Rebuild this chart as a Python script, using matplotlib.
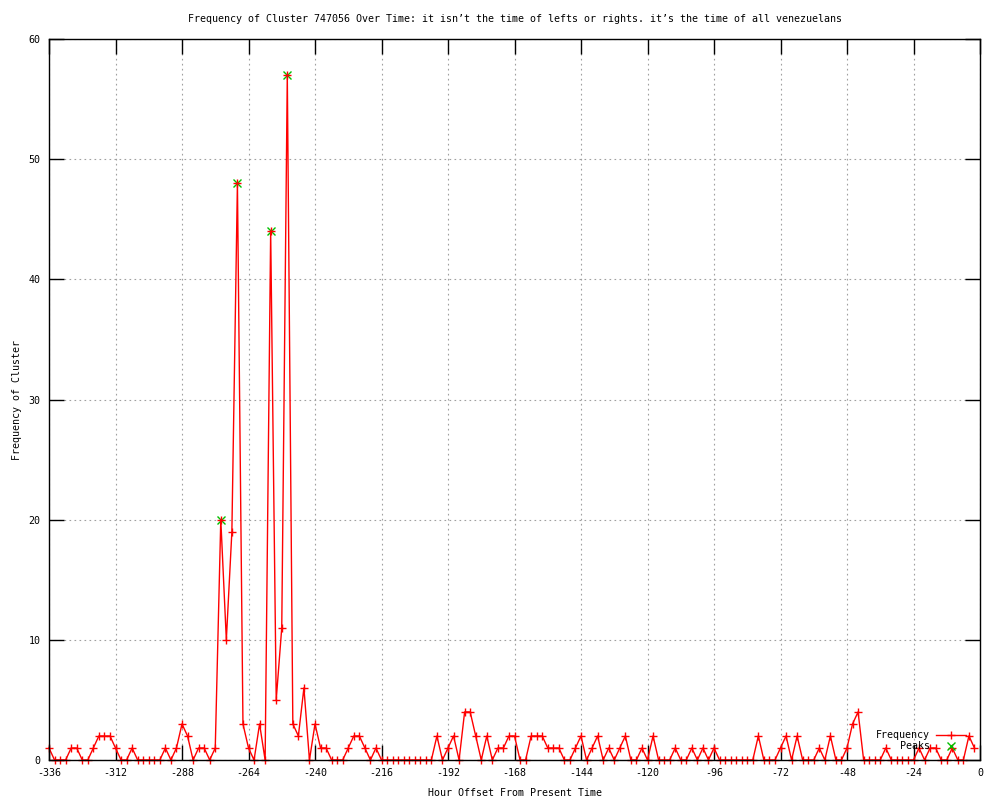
import matplotlib
matplotlib.use("Agg")
import matplotlib.pyplot as plt

plt.rcParams["axes.unicode_minus"] = False

# hours before present, one sample every 2 hours
hours = list(range(-336, 0, 2))
counts = [
    1, 0, 0, 0, 1, 1, 0, 0, 1, 2, 2, 2, 1, 0, 0, 1,      # -336 .. -306
    0, 0, 0, 0, 0, 1, 0, 1, 3, 2, 0, 1, 1, 0, 1,         # -304 .. -276
    20, 10, 19, 48, 3, 1, 0, 3, 0, 44, 5, 11, 57, 3, 2, 6,  # -274 .. -244
    0, 3, 1, 1, 0, 0, 0, 1, 2, 2, 1, 0, 1, 0,            # -242 .. -216
    0, 0, 0, 0, 0, 0, 0, 0, 0, 2, 0, 1, 2, 0, 4, 4,      # -214 .. -184
    2, 0, 2, 0, 1, 1, 2, 2, 0, 0, 2, 2, 2, 1, 1, 1,      # -182 .. -152
    0, 0, 1, 2, 0, 1, 2, 0, 1, 0, 1, 2, 0, 0, 1, 0,      # -150 .. -120
    2, 0, 0, 0, 1, 0, 0, 1, 0, 1, 0, 1, 0, 0, 0, 0,      # -118 .. -88
    0, 0, 0, 2, 0, 0, 0, 1, 2, 0, 2, 0, 0, 0, 1, 0,      # -86 .. -56
    2, 0, 0, 1, 3, 4, 0, 0, 0, 0, 1, 0, 0, 0, 0, 0,      # -54 .. -24
    1, 0, 1, 1, 0, 0, 1, 0, 0, 2, 1,                     # -22 .. -2
]
peak_hours = [-274, -268, -256, -250]
peak_counts = [20, 48, 44, 57]

title = ("Frequency of Cluster 747056 Over Time: it isn\u2019t the time of lefts "
         "or rights. it\u2019s the time of all venezuelans")

font = ["DejaVu Sans Mono"]
fs = 7.2

fig = plt.figure(figsize=(10, 8), dpi=100)
ax = fig.add_axes([0.049, 0.05, 0.931, 0.90125])

ax.plot(peak_hours, peak_counts, linestyle="none", marker="x", color="#00c000",
        markersize=6, markeredgewidth=1, zorder=3, clip_on=False)
ax.plot(hours, counts, color="red", linewidth=1, marker="+", markersize=6,
        markeredgewidth=1, label="Frequency", zorder=4, clip_on=False)
# legend entry for the peaks
ax.plot([], [], linestyle="none", marker="x", color="#00c000", markersize=6,
        markeredgewidth=1, label="Peaks")

ax.set_xlim(-336, 0)
ax.set_ylim(0, 60)
ax.set_xticks(range(-336, 1, 24))
ax.set_yticks(range(0, 61, 10))
ax.grid(True, color="#a0a0a0", linestyle=(0, (1.5, 3)), linewidth=0.8)
ax.set_axisbelow(True)
ax.tick_params(direction="in", length=11, width=1, top=True, right=True,
               labelsize=fs, pad=6)
for lab in ax.get_xticklabels() + ax.get_yticklabels():
    lab.set_family(font)
for sp in ax.spines.values():
    sp.set_linewidth(1)
    sp.set_zorder(5)

ax.set_title(title, fontsize=fs, family=font, pad=12)
ax.set_xlabel("Hour Offset From Present Time", fontsize=fs, family=font, labelpad=7)
ax.set_ylabel("Frequency of Cluster", fontsize=fs, family=font, labelpad=5)

leg = ax.legend(loc="lower right", bbox_to_anchor=(0.995, 0.0), frameon=False,
                markerfirst=False, handlelength=3.0, handletextpad=0.6,
                labelspacing=0.05, prop={"family": font, "size": fs})
for t in leg.get_texts():
    t.set_ha("right")

fig.savefig("out.png", dpi=100)
